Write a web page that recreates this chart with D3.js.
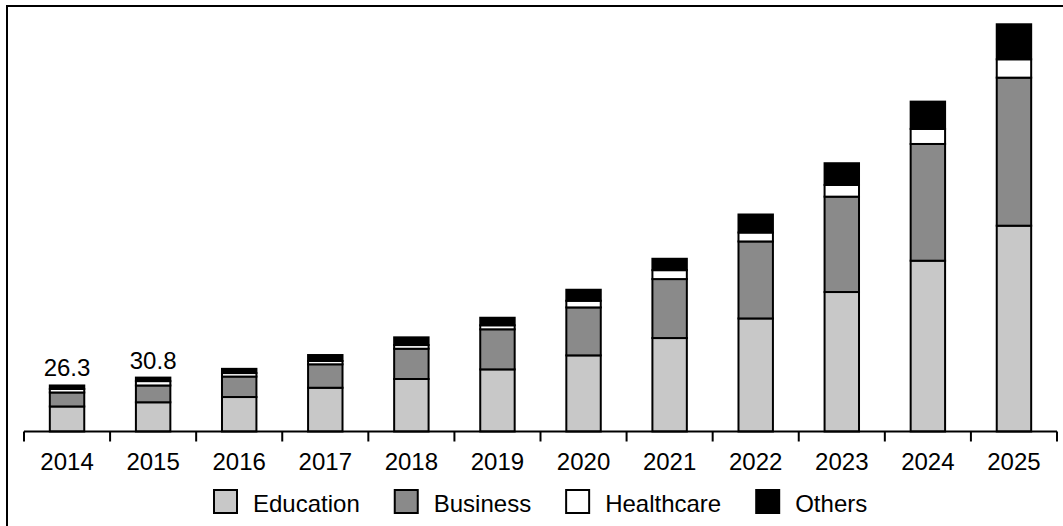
<!DOCTYPE html>
<html>
<head>
<meta charset="utf-8">
<script src="https://cdn.jsdelivr.net/npm/d3@7"></script>
<style>
  body { margin: 0; background: #fff; }
  svg text { font-family: "Liberation Sans", Arial, sans-serif; fill: #000; }
</style>
</head>
<body>
<div id="chart"></div>
<script>
// Data
const years = ["2014", "2015", "2016", "2017", "2018", "2019", "2020", "2021", "2022", "2023", "2024", "2025"];
const education  = [14.3, 16.7, 19.7, 25.0, 30.0, 35.5, 43.5, 53.4, 64.6, 79.7, 97.6, 117.6];
const business   = [8.0, 9.6, 11.7, 13.4, 17.3, 22.9, 27.4, 33.7, 44.0, 54.5, 66.7, 84.6];
const healthcare = [2.0, 2.5, 2.0, 1.9, 2.1, 2.3, 3.8, 5.1, 5.1, 6.7, 8.6, 10.5];
const others     = [2.0, 2.0, 2.4, 3.4, 4.4, 4.3, 6.3, 6.5, 10.3, 12.4, 15.6, 20.0];
const seriesNames = ["Education", "Business", "Healthcare", "Others"];
const seriesColors = ["#c8c8c8", "#8a8a8a", "#ffffff", "#000000"];
const labelledYears = ["2014", "2015"];

const W = 1063, H = 526;

const svg = d3.select("#chart")
    .append("svg")
    .attr("width", W)
    .attr("height", H);

// Frame (cropped on the right and bottom)
svg.append("rect")
    .attr("x", 7)
    .attr("y", 6)
    .attr("width", W + 20)
    .attr("height", H + 20)
    .attr("fill", "none")
    .attr("stroke", "#000")
    .attr("stroke-width", 2);

// Build table for the stack
const table = years.map((y, i) => ({
    year: y,
    Education: education[i],
    Business: business[i],
    Healthcare: healthcare[i],
    Others: others[i]
}));

const stack = d3.stack().keys(seriesNames);
const layers = stack(table);

const x = d3.scaleBand()
    .domain(years)
    .range([24, 1057])
    .padding(0);

const barW = x.bandwidth() * 0.4;

const y = d3.scaleLinear()
    .domain([0, 240])
    .range([431.5, 431.5 - 240 * 1.75]);

const color = d3.scaleOrdinal().domain(seriesNames).range(seriesColors);

// Bars
svg.append("g")
    .selectAll("g")
    .data(layers)
    .enter()
    .append("g")
    .attr("fill", d => color(d.key))
    .selectAll("rect")
    .data(d => d)
    .enter()
    .append("rect")
    .attr("x", d => x(d.data.year) + (x.bandwidth() - barW) / 2)
    .attr("y", d => y(d[1]))
    .attr("width", barW)
    .attr("height", d => y(d[0]) - y(d[1]))
    .attr("stroke", "#000")
    .attr("stroke-width", 2);

// Total labels on the first two bars
svg.selectAll(".total")
    .data(table.filter(d => labelledYears.includes(d.year)))
    .enter()
    .append("text")
    .attr("class", "total")
    .attr("x", d => x(d.year) + x.bandwidth() / 2)
    .attr("y", d => y(d.Education + d.Business + d.Healthcare + d.Others) - 9)
    .attr("text-anchor", "middle")
    .style("font-size", "24px")
    .text(d => d3.format(".1f")(d.Education + d.Business + d.Healthcare + d.Others));

// X axis: baseline, ticks at band edges, labels centred
const axis = svg.append("g");
axis.append("line")
    .attr("x1", x.range()[0])
    .attr("x2", x.range()[1])
    .attr("y1", y(0))
    .attr("y2", y(0))
    .attr("stroke", "#000")
    .attr("stroke-width", 2);

const edges = years.map(d => x(d)).concat([x.range()[1]]);
axis.selectAll(".tick")
    .data(edges)
    .enter()
    .append("line")
    .attr("x1", d => d)
    .attr("x2", d => d)
    .attr("y1", y(0))
    .attr("y2", y(0) + 10)
    .attr("stroke", "#000")
    .attr("stroke-width", 2);

axis.selectAll(".lab")
    .data(years)
    .enter()
    .append("text")
    .attr("x", d => x(d) + x.bandwidth() / 2)
    .attr("y", 470)
    .attr("text-anchor", "middle")
    .style("font-size", "24px")
    .text(d => d);

// Legend
const legend = svg.append("g");
let lx = 214;
seriesNames.forEach(name => {
    legend.append("rect")
        .attr("x", lx)
        .attr("y", 490)
        .attr("width", 23)
        .attr("height", 23)
        .attr("fill", color(name))
        .attr("stroke", "#000")
        .attr("stroke-width", 2);
    const t = legend.append("text")
        .attr("x", lx + 39)
        .attr("y", 512)
        .style("font-size", "24px")
        .text(name);
    lx += 39 + t.node().getComputedTextLength() + 35;
});
</script>
</body>
</html>
